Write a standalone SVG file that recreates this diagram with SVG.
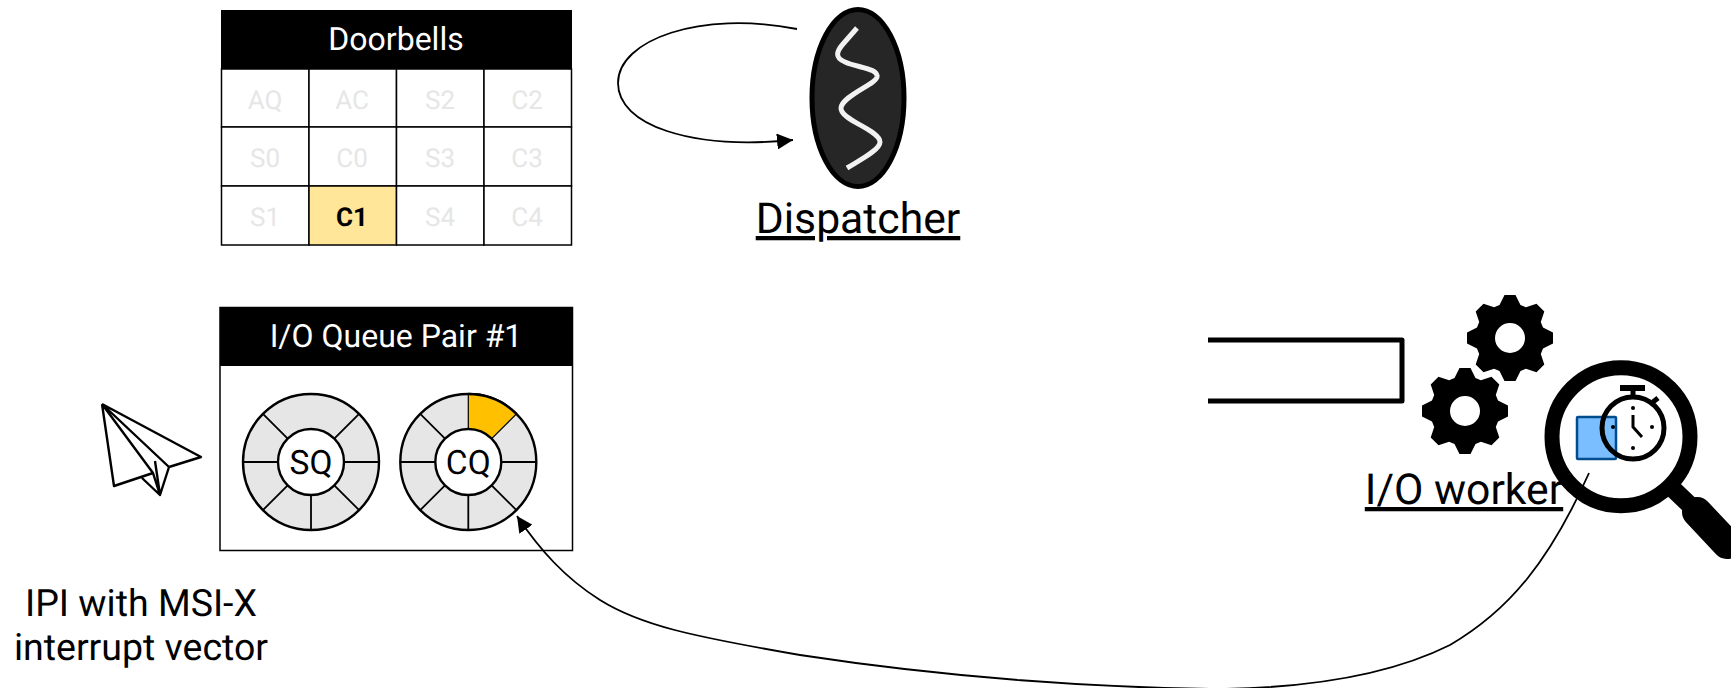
<svg xmlns="http://www.w3.org/2000/svg" width="1731" height="688" viewBox="0 0 1731 688">
<style>
text{font-family:Roboto,"Liberation Sans",sans-serif;text-anchor:middle;text-rendering:geometricPrecision}
.hd{fill:#fff;font-size:32px}
.cell{fill:#fff;stroke:#000;stroke-width:1.5}
.dim{fill:#e6e6e6;font-size:26px}
.lab{fill:#000;font-size:42.700px;text-decoration:underline}
.plain{fill:#000;font-size:37.500px}
.q{fill:#000;font-size:33.500px}
.sp{stroke:#000;stroke-width:1.8;fill:none}
.ring{fill:#e6e6e6;stroke:#000;stroke-width:2.400}
.in{fill:#fff;stroke:#000;stroke-width:2.400}
.conn{fill:none;stroke:#000;stroke-width:1.800}
</style>
<defs>
<marker id="arr" markerUnits="userSpaceOnUse" markerWidth="18" markerHeight="16" refX="16" refY="8" orient="auto"><path d="M0 0L16 8L0 16Z" fill="#000"/></marker>
<path id="gear" d="M-10.500-33L-5.500-43L5.500-43L10.500-33L15.900-30.800L26.500-34.300L34.300-26.500L30.800-15.900L33-10.500L43-5.500L43 5.500L33 10.500L30.800 15.900L34.300 26.500L26.500 34.300L15.900 30.800L10.500 33L5.500 43L-5.500 43L-10.500 33L-15.900 30.800L-26.500 34.300L-34.300 26.500L-30.800 15.900L-33 10.500L-43 5.500L-43-5.500L-33-10.500L-30.800-15.900L-34.300-26.500L-26.500-34.300L-15.900-30.800ZM15 0A15 15 0 1 0-15 0A15 15 0 1 0 15 0Z" fill="#000" fill-rule="evenodd"/>
</defs>
<g id="doorbells">
<rect x="221" y="10" width="351" height="59" fill="#000"/>
<text class="hd" x="396" y="50">Doorbells</text>
<rect class="cell" x="221.500" y="69" width="87.500" height="58"/><rect class="cell" x="309" y="69" width="87.500" height="58"/><rect class="cell" x="396.500" y="69" width="87.500" height="58"/><rect class="cell" x="484" y="69" width="87.500" height="58"/>
<rect class="cell" x="221.500" y="127" width="87.500" height="59"/><rect class="cell" x="309" y="127" width="87.500" height="59"/><rect class="cell" x="396.500" y="127" width="87.500" height="59"/><rect class="cell" x="484" y="127" width="87.500" height="59"/>
<rect class="cell" x="221.500" y="186" width="87.500" height="59"/><rect class="cell" x="309" y="186" width="87.500" height="59" style="fill:#ffe699"/><rect class="cell" x="396.500" y="186" width="87.500" height="59"/><rect class="cell" x="484" y="186" width="87.500" height="59"/>
<text class="dim" x="265" y="109">AQ</text><text class="dim" x="352" y="109">AC</text><text class="dim" x="440" y="109">S2</text><text class="dim" x="527" y="109">C2</text>
<text class="dim" x="265" y="167">S0</text><text class="dim" x="352" y="167">C0</text><text class="dim" x="440" y="167">S3</text><text class="dim" x="527" y="167">C3</text>
<text class="dim" x="265" y="226">S1</text><text x="352" y="226" style="font-size:26px;font-weight:700;fill:#000">C1</text><text class="dim" x="440" y="226">S4</text><text class="dim" x="527" y="226">C4</text>
</g>
<g id="dispatcher">
<ellipse cx="858" cy="98" rx="46" ry="88.500" fill="#262626" stroke="#000" stroke-width="5"/>
<path d="M857 28L843 44C836 52 835 58 845 62C858 68 878 68 877 77C876 84 842 96 841 108C840 120 880 130 880 142C880 150 860 160 847 168" fill="none" stroke="#f2f2f2" stroke-width="5"/>
<text class="lab" x="858" y="233">Dispatcher</text>
</g>
<g id="queue-pair">
<rect x="220" y="307.500" width="352.500" height="243" fill="#fff" stroke="#000" stroke-width="1.500"/>
<rect x="220" y="307" width="353" height="59" fill="#000"/>
<text class="hd" x="396" y="347">I/O Queue Pair #1</text>
<g id="sq">
<circle class="ring" cx="311" cy="462" r="68"/>
<path class="sp" d="M334.300 438.700L359.100 413.900M344 462H379M334.300 485.300L359.100 510.100M311 495V530M287.700 485.300L262.900 510.100M278 462H243M287.700 438.700L262.900 413.900"/>
<circle class="in" cx="311" cy="462" r="33"/>
<text class="q" x="311" y="474">SQ</text>
</g>
<g id="cq">
<circle class="ring" cx="468.300" cy="462" r="68"/>
<path d="M468.300 394A68 68 0 0 1 516.400 413.900L491.600 438.700A33 33 0 0 0 468.300 429Z" fill="#ffc000" stroke="#000" stroke-width="1.200"/>
<path d="M468.300 394A68 68 0 0 1 516.400 413.900" fill="none" stroke="#000" stroke-width="2.400"/>
<path class="sp" d="M501.300 462H536.300M491.600 485.300L516.400 510.100M468.300 495V530M445 485.300L420.200 510.100M435.300 462H400.300M445 438.700L420.200 413.900"/>
<circle class="in" cx="468.300" cy="462" r="33"/>
<text class="q" x="468.300" y="474">CQ</text>
</g>
</g>
<g id="plane" fill="none" stroke="#000" stroke-width="2.400" stroke-linejoin="round">
<path d="M102 404L201 457L169 467L160 495L142 478M102 404L114 486L153 473M102 404L153 473L160 495M102 404L169 467M155 461L160 495"/>
</g>
<text id="ipi-label" class="plain"><tspan x="141" y="616">IPI with MSI-X</tspan><tspan x="141" y="660">interrupt vector</tspan></text>
<g id="io-worker">
<path d="M1208 340H1402V401H1208" fill="none" stroke="#000" stroke-width="5" stroke-linejoin="round"/>
<use href="#gear" x="1465" y="411"/>
<use href="#gear" x="1510" y="338"/>
<text class="lab" x="1464" y="504">I/O worker</text>
</g>
<g id="connectors">
<path class="conn" d="M797 29C700 10 618 40 618 83C618 125 690 150 793 140" marker-end="url(#arr)"/>
<path class="conn" d="M1589 473C1550 560 1510 610 1450 645C1380 680 1290 688 1220 689C1100 688 950 678 800 655C690 636 640 625 600 600C565 578 540 550 517 516" marker-end="url(#arr)"/>
</g>
<g id="magnifier">
<rect x="1577" y="417" width="39" height="42" rx="1" fill="#7abeff" stroke="#004c8c" stroke-width="2.500"/>
<circle cx="1621" cy="436.700" r="69" fill="none" stroke="#000" stroke-width="15"/>
<path d="M1672 488L1695 510" stroke="#000" stroke-width="18"/>
<path d="M1697 512L1727 544" stroke="#000" stroke-width="30" stroke-linecap="round"/>
<circle cx="1633" cy="428" r="31" fill="none" stroke="#000" stroke-width="5"/>
<rect x="1620" y="385" width="25" height="6" fill="#000"/>
<path d="M1633 391V397M1653 402L1658 398" stroke="#000" stroke-width="5"/>
<path d="M1633 415V427L1642 437" fill="none" stroke="#000" stroke-width="3"/>
<circle cx="1633" cy="408" r="2"/><circle cx="1652" cy="427" r="2"/><circle cx="1633" cy="448" r="2"/><circle cx="1613" cy="427" r="2"/>
</g>
</svg>
